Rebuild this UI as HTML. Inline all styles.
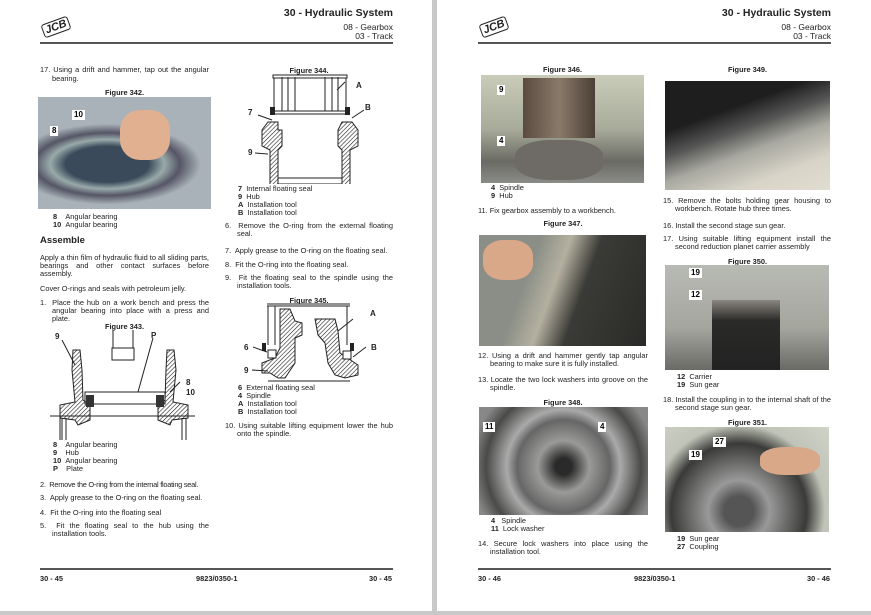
<!DOCTYPE html>
<html><head><meta charset="utf-8"><style>
*{margin:0;padding:0;box-sizing:border-box}
body{width:871px;height:615px;background:#c8c8c8;position:relative;overflow:hidden;font-family:"Liberation Sans",Arial,sans-serif;color:#222;font-size:7.4px;line-height:9px}
.pg{position:absolute;top:0;height:611px;background:#fff}
.a{position:absolute}
.j{text-align:justify}
.fig{position:absolute;font-weight:bold;font-size:7.4px;text-align:center}
.hl{position:absolute;height:1.5px;background:#555}
.h1{position:absolute;font-weight:bold;font-size:10.5px;text-align:right}
.h2{position:absolute;font-size:8.5px;text-align:right;line-height:9px}
.ph{position:absolute}
.lab{position:absolute;background:#fff;font-weight:bold;font-size:8px;padding:0 2px;line-height:10px;color:#000}
.li{position:absolute;padding-left:12px;text-indent:-12px}
b{font-weight:bold}
.logo{position:absolute;font:bold italic 11px "Liberation Sans",sans-serif;border:1.5px solid #222;border-radius:3px;padding:0 2px;transform:rotate(-20deg);line-height:12px}
.ft{position:absolute;font-weight:bold;font-size:7.4px}
</style></head><body>
<div class="pg" style="left:0;width:432px"></div>
<div class="pg" style="left:437px;width:434px"></div>

<!-- LEFT PAGE -->
<div class="logo" style="left:42px;top:20px">JCB</div>
<div class="h1" style="left:200px;width:193px;top:9px">30 - Hydraulic System</div>
<div class="h2" style="left:200px;width:193px;top:23px">08 - Gearbox<br>03 - Track</div>
<div class="hl" style="left:40px;width:353px;top:42px"></div>

<div class="li j" style="left:40px;top:65px;width:169px">17. Using a drift and hammer, tap out the angular bearing.</div>
<div class="fig" style="left:40px;width:169px;top:88px">Figure 342.</div>
<div class="ph" style="left:38px;top:97px;width:173px;height:112px;background:radial-gradient(ellipse 60% 40% at 40% 60%,#3a4a5a 40%,#9aa 55%,#556 70%,#a9b2b8 90%),#8a95a0"></div>
<div class="ph" style="left:120px;top:110px;width:50px;height:50px;background:#e0b090;border-radius:40%"></div>
<div class="lab" style="left:72px;top:110px">10</div>
<div class="lab" style="left:50px;top:126px">8</div>
<div class="a" style="left:53px;top:213px;line-height:8px"><b>8</b>&nbsp;&nbsp;&nbsp;&nbsp;Angular bearing<br><b>10</b>&nbsp;&nbsp;Angular bearing</div>
<div class="a" style="left:40px;top:236px;font-weight:bold;font-size:9.5px">Assemble</div>
<div class="a j" style="left:40px;top:254px;width:169px;line-height:8.2px">Apply a thin film of hydraulic fluid to all sliding parts, bearings and other contact surfaces before assembly.</div>
<div class="a" style="left:40px;top:284px">Cover O-rings and seals with petroleum jelly.</div>
<div class="li j" style="left:40px;top:299px;width:169px;line-height:8.2px">1.&nbsp; Place the hub on a work bench and press the angular bearing into place with a press and plate.</div>
<div class="fig" style="left:40px;width:169px;top:322px">Figure 343.</div>
<svg class="a" style="left:50px;top:330px" width="150" height="110" viewBox="0 0 150 110">
<defs><pattern id="h" width="3" height="3" patternUnits="userSpaceOnUse" patternTransform="rotate(45)"><rect width="3" height="3" fill="#fff"/><line x1="0" y1="0" x2="0" y2="3" stroke="#222" stroke-width="1.2"/></pattern></defs>
<g stroke="#222" stroke-width="1" fill="url(#h)">
<path d="M23 20 L30 20 L32 40 L33 70 L40 75 L40 90 L28 95 L25 90 L10 88 L10 75 L25 72 L22 40 Z"/>
<path d="M117 20 L124 20 L126 40 L123 72 L138 75 L138 88 L122 90 L120 95 L108 90 L108 75 L115 70 L116 40 Z"/>
</g>
<rect x="35" y="62" width="80" height="12" fill="none" stroke="#222"/>
<rect x="36" y="65" width="8" height="12" fill="#333"/><rect x="106" y="65" width="8" height="12" fill="#333"/>
<path d="M63 0 V18 M83 0 V18 M62 18 H84 V30 H62 Z" fill="none" stroke="#222"/>
<path d="M12 88 V112 M16 88 V112 M132 88 V112 M136 88 V112 M10 85 V112 M0 86 H145" stroke="#222" fill="none"/>
<line x1="12" y1="10" x2="25" y2="35" stroke="#222"/><line x1="103" y1="8" x2="88" y2="62" stroke="#222"/><line x1="130" y1="52" x2="120" y2="62" stroke="#222"/>
</svg>
<div class="a" style="left:55px;top:332px;font-weight:bold;font-size:8px">9</div>
<div class="a" style="left:151px;top:331px;font-weight:bold;font-size:8px">P</div>
<div class="a" style="left:186px;top:378px;font-weight:bold;font-size:8px;line-height:10px">8<br>10</div>
<div class="a" style="left:53px;top:441px;line-height:8px"><b>8</b>&nbsp;&nbsp;&nbsp;&nbsp;Angular bearing<br><b>9</b>&nbsp;&nbsp;&nbsp;&nbsp;Hub<br><b>10</b>&nbsp;&nbsp;Angular bearing<br><b>P</b>&nbsp;&nbsp;&nbsp;&nbsp;Plate</div>
<div class="li" style="left:40px;top:480px;width:175px;letter-spacing:-0.25px;white-space:nowrap">2.&nbsp; Remove the O-ring from the internal floating seal.</div>
<div class="li" style="left:40px;top:493px;width:170px">3.&nbsp; Apply grease to the O-ring on the floating seal.</div>
<div class="li" style="left:40px;top:508px;width:170px">4.&nbsp; Fit the O-ring into the floating seal</div>
<div class="li j" style="left:40px;top:522px;width:169px;line-height:8.2px">5.&nbsp; Fit the floating seal to the hub using the installation tools.</div>

<div class="fig" style="left:225px;width:168px;top:66px">Figure 344.</div>
<svg class="a" style="left:240px;top:74px" width="130" height="110" viewBox="0 0 130 110">
<defs><pattern id="h2" width="3" height="3" patternUnits="userSpaceOnUse" patternTransform="rotate(45)"><rect width="3" height="3" fill="#fff"/><line x1="0" y1="0" x2="0" y2="3" stroke="#222" stroke-width="1.2"/></pattern></defs>
<rect x="34" y="3" width="72" height="34" fill="none" stroke="#222"/><rect x="33" y="1" width="74" height="3" fill="#fff" stroke="#222"/>
<path d="M42 3 V37 M48 3 V37 M55 3 V37 M85 3 V37 M92 3 V37 M98 3 V37" stroke="#222"/>
<rect x="30" y="33" width="5" height="8" fill="#222"/><rect x="105" y="33" width="5" height="8" fill="#222"/>
<path d="M35 40 H105" stroke="#222"/>
<g fill="url(#h2)" stroke="#222"><path d="M28 54 L38 54 L38 62 L42 62 L42 78 L38 82 L38 118 L30 118 L30 82 L22 78 L22 62 Z" transform="translate(0,-6)"/><path d="M102 54 L112 54 L118 62 L118 78 L110 82 L110 118 L102 118 L102 82 L98 78 L98 62 Z" transform="translate(0,-6)"/></g>
<path d="M38 104 H102 M38 110 H102" stroke="#222"/>
<line x1="18" y1="41" x2="32" y2="46" stroke="#222"/><line x1="97" y1="16" x2="105" y2="8" stroke="#222"/><line x1="124" y1="36" x2="112" y2="44" stroke="#222"/><line x1="15" y1="79" x2="28" y2="80" stroke="#222"/>
</svg>
<div class="a" style="left:248px;top:108px;font-weight:bold;font-size:8px">7</div>
<div class="a" style="left:356px;top:81px;font-weight:bold;font-size:8px">A</div>
<div class="a" style="left:365px;top:103px;font-weight:bold;font-size:8px">B</div>
<div class="a" style="left:248px;top:148px;font-weight:bold;font-size:8px">9</div>
<div class="a" style="left:238px;top:185px;line-height:8px"><b>7</b>&nbsp;&nbsp;Internal floating seal<br><b>9</b>&nbsp;&nbsp;Hub<br><b>A</b>&nbsp;&nbsp;Installation tool<br><b>B</b>&nbsp;&nbsp;Installation tool</div>
<div class="li j" style="left:225px;top:222px;width:168px;line-height:8.2px">6.&nbsp; Remove the O-ring from the external floating seal.</div>
<div class="li" style="left:225px;top:246px;width:170px">7.&nbsp; Apply grease to the O-ring on the floating seal.</div>
<div class="li" style="left:225px;top:260px;width:170px">8.&nbsp; Fit the O-ring into the floating seal.</div>
<div class="li j" style="left:225px;top:274px;width:168px;line-height:8.2px">9.&nbsp; Fit the floating seal to the spindle using the installation tools.</div>
<div class="fig" style="left:225px;width:168px;top:296px">Figure 345.</div>
<svg class="a" style="left:240px;top:303px" width="130" height="80" viewBox="0 0 130 80">
<defs><pattern id="h3" width="3" height="3" patternUnits="userSpaceOnUse" patternTransform="rotate(45)"><rect width="3" height="3" fill="#fff"/><line x1="0" y1="0" x2="0" y2="3" stroke="#222" stroke-width="1.2"/></pattern></defs>
<path d="M27 3 H110 M27 1 H110 M28 3 V42 M35 3 V42 M107 3 V42" stroke="#222" fill="none"/>
<rect x="22" y="40" width="4" height="8" fill="#222"/><rect x="110" y="40" width="4" height="8" fill="#222"/>
<g fill="url(#h3)" stroke="#222"><path d="M40 6 L50 6 L55 18 L62 20 L62 32 L55 35 L55 60 L45 75 L38 75 L30 70 L22 70 L22 60 L35 55 L40 45 Z"/><path d="M75 16 L95 16 L98 28 L100 50 L112 58 L118 62 L118 72 L105 75 L95 72 L88 60 L85 40 L78 32 Z"/></g>
<rect x="28" y="47" width="8" height="8" fill="#fff" stroke="#222"/><rect x="103" y="48" width="8" height="8" fill="#fff" stroke="#222"/>
<path d="M28 78 H110" stroke="#222"/>
<line x1="13" y1="44" x2="27" y2="49" stroke="#222"/><line x1="98" y1="28" x2="113" y2="16" stroke="#222"/><line x1="126" y1="44" x2="113" y2="54" stroke="#222"/><line x1="12" y1="67" x2="28" y2="68" stroke="#222"/>
</svg>
<div class="a" style="left:244px;top:343px;font-weight:bold;font-size:8px">6</div>
<div class="a" style="left:370px;top:309px;font-weight:bold;font-size:8px">A</div>
<div class="a" style="left:371px;top:343px;font-weight:bold;font-size:8px">B</div>
<div class="a" style="left:244px;top:366px;font-weight:bold;font-size:8px">9</div>
<div class="a" style="left:238px;top:384px;line-height:8px"><b>6</b>&nbsp;&nbsp;External floating seal<br><b>4</b>&nbsp;&nbsp;Spindle<br><b>A</b>&nbsp;&nbsp;Installation tool<br><b>B</b>&nbsp;&nbsp;Installation tool</div>
<div class="li j" style="left:225px;top:422px;width:168px;line-height:8.2px">10. Using suitable lifting equipment lower the hub onto the spindle.</div>

<div class="hl" style="left:40px;width:353px;top:568px"></div>
<div class="ft" style="left:40px;top:574px">30 - 45</div>
<div class="ft" style="left:196px;top:574px">9823/0350-1</div>
<div class="ft" style="left:369px;top:574px">30 - 45</div>

<!-- RIGHT PAGE -->
<div class="logo" style="left:480px;top:20px">JCB</div>
<div class="h1" style="left:640px;width:191px;top:9px">30 - Hydraulic System</div>
<div class="h2" style="left:640px;width:191px;top:23px">08 - Gearbox<br>03 - Track</div>
<div class="hl" style="left:478px;width:353px;top:42px"></div>

<div class="fig" style="left:481px;width:163px;top:65px">Figure 346.</div>
<div class="ph" style="left:481px;top:75px;width:163px;height:108px;background:linear-gradient(#c8ccb8,#a8ab9a 50%,#6a6a64 80%,#8a8c88)"></div>
<div class="ph" style="left:523px;top:78px;width:72px;height:60px;background:linear-gradient(90deg,#5a4a40,#8a7a6a,#4a3e36)"></div>
<div class="ph" style="left:515px;top:140px;width:88px;height:40px;background:#6e6a66;border-radius:40%"></div>
<div class="lab" style="left:497px;top:85px">9</div>
<div class="lab" style="left:497px;top:136px">4</div>
<div class="a" style="left:491px;top:184px;line-height:8px"><b>4</b>&nbsp;&nbsp;Spindle<br><b>9</b>&nbsp;&nbsp;Hub</div>
<div class="li" style="left:478px;top:206px;width:170px">11. Fix gearbox assembly to a workbench.</div>
<div class="fig" style="left:478px;width:170px;top:219px">Figure 347.</div>
<div class="ph" style="left:479px;top:235px;width:167px;height:111px;background:linear-gradient(110deg,#8a8e86 30%,#b4b0a0 45%,#3a3a36 60%,#2a2a28)"></div>
<div class="ph" style="left:483px;top:240px;width:50px;height:40px;background:#d8a888;border-radius:40%"></div>
<div class="li j" style="left:478px;top:352px;width:170px;line-height:8.2px">12. Using a drift and hammer gently tap angular bearing to make sure it is fully installed.</div>
<div class="li j" style="left:478px;top:376px;width:170px;line-height:8.2px">13. Locate the two lock washers into groove on the spindle.</div>
<div class="fig" style="left:478px;width:170px;top:398px">Figure 348.</div>
<div class="ph" style="left:479px;top:407px;width:169px;height:108px;background:radial-gradient(circle at 50% 55%,#2a2a2a 8%,#9a9a98 25%,#666 45%,#aaa 55%,#4a4a48 75%,#888 90%)"></div>
<div class="lab" style="left:483px;top:422px">11</div>
<div class="lab" style="left:598px;top:422px">4</div>
<div class="a" style="left:491px;top:517px;line-height:8px"><b>4</b>&nbsp;&nbsp;&nbsp;Spindle<br><b>11</b>&nbsp;&nbsp;Lock washer</div>
<div class="li j" style="left:478px;top:540px;width:170px;line-height:8.2px">14. Secure lock washers into place using the installation tool.</div>

<div class="fig" style="left:665px;width:165px;top:65px">Figure 349.</div>
<div class="ph" style="left:665px;top:81px;width:165px;height:109px;background:linear-gradient(160deg,#1e1e1e 30%,#555 45%,#a8a8a0 60%,#d8d4c8 80%,#e0dcd0)"></div>
<div class="li j" style="left:663px;top:197px;width:168px;line-height:8.2px">15. Remove the bolts holding gear housing to workbench. Rotate hub three times.</div>
<div class="li" style="left:663px;top:221px;width:170px">16. Install the second stage sun gear.</div>
<div class="li j" style="left:663px;top:235px;width:168px;line-height:8.2px">17. Using suitable lifting equipment install the second reduction planet carrier assembly</div>
<div class="fig" style="left:665px;width:165px;top:257px">Figure 350.</div>
<div class="ph" style="left:665px;top:265px;width:164px;height:105px;background:linear-gradient(#b8bab4,#a4a69e 60%,#6a6a66)"></div>
<div class="ph" style="left:712px;top:300px;width:68px;height:70px;background:linear-gradient(#8a8680,#2a2a28 30%,#222)"></div>
<div class="lab" style="left:689px;top:268px">19</div>
<div class="lab" style="left:689px;top:290px">12</div>
<div class="a" style="left:677px;top:373px;line-height:8px"><b>12</b>&nbsp;&nbsp;Carrier<br><b>19</b>&nbsp;&nbsp;Sun gear</div>
<div class="li j" style="left:663px;top:396px;width:168px;line-height:8.2px">18. Install the coupling in to the internal shaft of the second stage sun gear.</div>
<div class="fig" style="left:665px;width:165px;top:418px">Figure 351.</div>
<div class="ph" style="left:665px;top:427px;width:164px;height:105px;background:radial-gradient(circle at 45% 80%,#555 12%,#999 25%,#3a3a38 55%,#c0c4b8 70%,#d0d4c8)"></div>
<div class="ph" style="left:760px;top:447px;width:60px;height:28px;background:#d8a888;border-radius:40%"></div>
<div class="lab" style="left:713px;top:437px">27</div>
<div class="lab" style="left:689px;top:450px">19</div>
<div class="a" style="left:677px;top:535px;line-height:8px"><b>19</b>&nbsp;&nbsp;Sun gear<br><b>27</b>&nbsp;&nbsp;Coupling</div>

<div class="hl" style="left:478px;width:353px;top:568px"></div>
<div class="ft" style="left:478px;top:574px">30 - 46</div>
<div class="ft" style="left:634px;top:574px">9823/0350-1</div>
<div class="ft" style="left:807px;top:574px">30 - 46</div>
</body></html>
